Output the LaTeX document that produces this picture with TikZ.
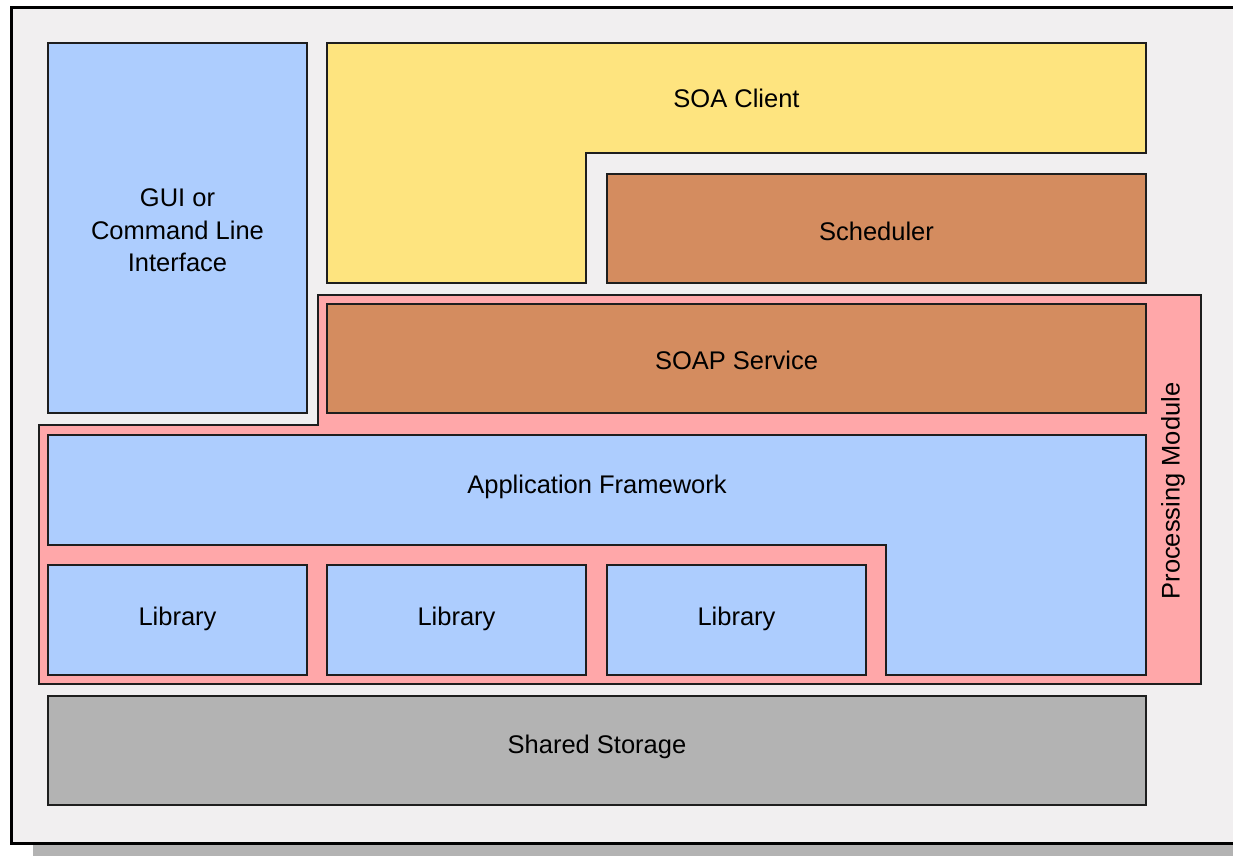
\documentclass[tikz,border=0pt]{standalone}
\usepackage{fontspec}
\setmainfont{Liberation Sans}
\definecolor{pagebg}{HTML}{F1EFF0}
\definecolor{shadowgray}{HTML}{B3B3B3}
\definecolor{edge}{HTML}{1E1E1E}
\definecolor{boxblue}{HTML}{ADCDFE}
\definecolor{boxyellow}{HTML}{FEE47F}
\definecolor{boxbrown}{HTML}{D48C5F}
\definecolor{boxpink}{HTML}{FFA7A9}
\definecolor{boxgray}{HTML}{B3B3B3}
\begin{document}
\begin{tikzpicture}[x=1pt,y=-1pt,
  part/.style={draw=edge,line width=1.8pt,line join=miter},
  label/.style={font=\fontsize{25.5}{32.5}\selectfont,text=black,align=center,inner sep=0pt}]
\useasboundingbox (0,0) rectangle (1233,855);
\clip (0,0) rectangle (1233,855);
\fill[white] (0,0) rectangle (1233,855);

% drop shadow and sheet frame
\fill[shadowgray] (33,844) rectangle (1240,860);
\filldraw[fill=pagebg,draw=black,line width=3pt] (11.5,7) rectangle (1260,843);

% client side
\path[part,fill=boxblue] (48,43) rectangle (307,413);
\path[part,fill=boxyellow] (327,43) -- (1146,43) -- (1146,153) -- (586,153)
  -- (586,283) -- (327,283) -- cycle;
\path[part,fill=boxbrown] (607,174) rectangle (1146,283);

% processing module
\path[part,fill=boxpink] (318,295) -- (1201,295) -- (1201,684) -- (39,684)
  -- (39,425) -- (318,425) -- cycle;
\path[part,fill=boxbrown] (327,304) rectangle (1146,413);
\path[part,fill=boxblue] (48,435) -- (1146,435) -- (1146,675) -- (886,675)
  -- (886,545) -- (48,545) -- cycle;
\path[part,fill=boxblue] (48,565) rectangle (307,675);
\path[part,fill=boxblue] (327,565) rectangle (586,675);
\path[part,fill=boxblue] (607,565) rectangle (866,675);

% storage
\path[part,fill=boxgray] (48,696) rectangle (1146,805);

% labels
\node[label] (gui) at (177.5,230.5) {GUI or\\Command Line\\Interface};
\node[label] (soaclient) at (736.5,98) {SOA Client};
\node[label] (scheduler) at (876.5,231) {Scheduler};
\node[label] (soap) at (736.5,360.5) {SOAP Service};
\node[label] (appfw) at (597,487) {Application Framework};
\node[label] (lib1) at (177.5,619) {Library};
\node[label] (lib2) at (456.5,619) {Library};
\node[label] (lib3) at (736.5,619) {Library};
\node[label] (storage) at (597,747) {Shared Storage};
\node[label,rotate=90] (procmod) at (1173,491) {Processing Module};
\end{tikzpicture}
\end{document}
